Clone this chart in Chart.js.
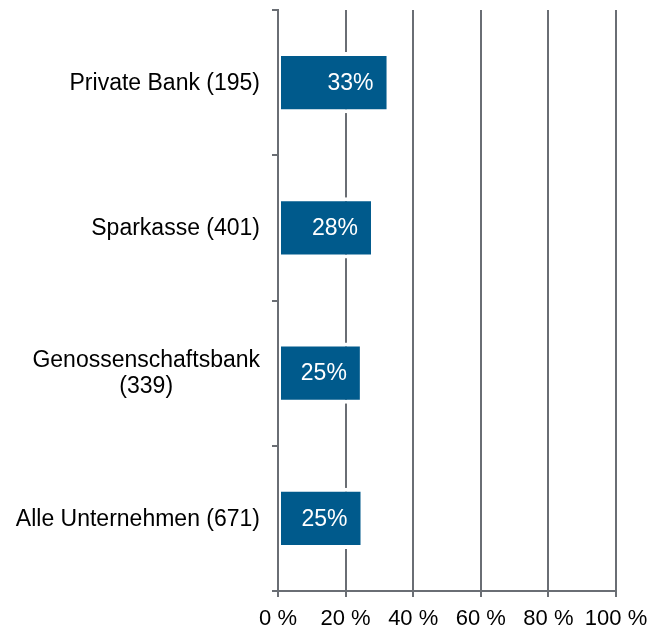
<!DOCTYPE html>
<html>
<head>
<meta charset="utf-8">
<script src="https://cdn.jsdelivr.net/npm/chart.js@4/dist/chart.umd.min.js"></script>
<style>
  html, body { margin: 0; padding: 0; background: #fff; }
  #wrap { width: 662px; height: 632px; }
</style>
</head>
<body>
<div id="wrap"><canvas id="chart" width="662" height="632"></canvas></div>
<script>
// --- Data ---
const categories = [
    ['Private Bank (195)'],
    ['Sparkasse (401)'],
    ['Genossenschaftsbank', '(339)'],
    ['Alle Unternehmen (671)']
];
const shares = [33, 28.4, 25.1, 25.3];
const tickValues = [0, 20, 40, 60, 80, 100];

const FONT = "'Liberation Sans', Arial, sans-serif";
const GRID = '#6a6e74';
const BAR = '#005a8c';

// --- Category labels: right-aligned block, lines centred inside it ---
const categoryLabels = {
    id: 'categoryLabels',
    afterDraw(chart) {
        const ctx = chart.ctx;
        const y = chart.scales.y;
        const right = chart.chartArea.left - 18;
        const lineH = 26;
        ctx.save();
        ctx.font = '23px ' + FONT;
        ctx.fillStyle = '#000';
        ctx.textAlign = 'center';
        ctx.textBaseline = 'middle';
        categories.forEach((lines, i) => {
            const w = Math.max(...lines.map(l => ctx.measureText(l).width));
            const cx = right - w / 2;
            const cy = y.getPixelForValue(i);
            lines.forEach((l, k) => {
                ctx.fillText(l, cx, cy + 1 + (k - (lines.length - 1) / 2) * lineH);
            });
        });
        ctx.restore();
    }
};

// --- Value labels inside the bars ---
const valueLabels = {
    id: 'valueLabels',
    afterDatasetsDraw(chart) {
        const ctx = chart.ctx;
        const meta = chart.getDatasetMeta(0);
        ctx.save();
        ctx.font = '23px ' + FONT;
        ctx.fillStyle = '#fff';
        ctx.textAlign = 'right';
        ctx.textBaseline = 'middle';
        meta.data.forEach((bar, i) => {
            ctx.fillText(Math.round(shares[i]) + '%', bar.x - 16, bar.y + 1);
        });
        ctx.restore();
    }
};

new Chart(document.getElementById('chart').getContext('2d'), {
    type: 'bar',
    data: {
        labels: categories.map(l => l.join(' ')),
        datasets: [{
            data: shares,
            backgroundColor: BAR,
            borderColor: '#ffffff',
            borderWidth: { top: 4, bottom: 4, right: 3, left: 2 },
            borderSkipped: false,
            barPercentage: 0.42,
            categoryPercentage: 1
        }]
    },
    options: {
        indexAxis: 'y',
        responsive: false,
        animation: false,
        layout: { padding: { top: 10, right: 46, left: 0, bottom: 0 } },
        plugins: { legend: { display: false }, tooltip: { enabled: false } },
        scales: {
            x: {
                min: 0,
                max: 100,
                afterBuildTicks: scale => { scale.ticks = tickValues.map(v => ({ value: v })); },
                afterFit: scale => { scale.height = 41; },
                grid: { color: GRID, lineWidth: 2, tickLength: 6 },
                border: { display: true, color: GRID, width: 2 },
                ticks: {
                    color: '#000',
                    padding: 9,
                    maxRotation: 0,
                    font: { family: FONT, size: 22 },
                    callback: v => v + ' %'
                }
            },
            y: {
                offset: true,
                afterFit: scale => { scale.width = 278; },
                grid: { offset: true, drawOnChartArea: false, color: GRID, lineWidth: 2, tickLength: 6 },
                border: { display: true, color: GRID, width: 2, z: 1 },
                ticks: { display: false }
            }
        }
    },
    plugins: [valueLabels, categoryLabels]
});
</script>
</body>
</html>
